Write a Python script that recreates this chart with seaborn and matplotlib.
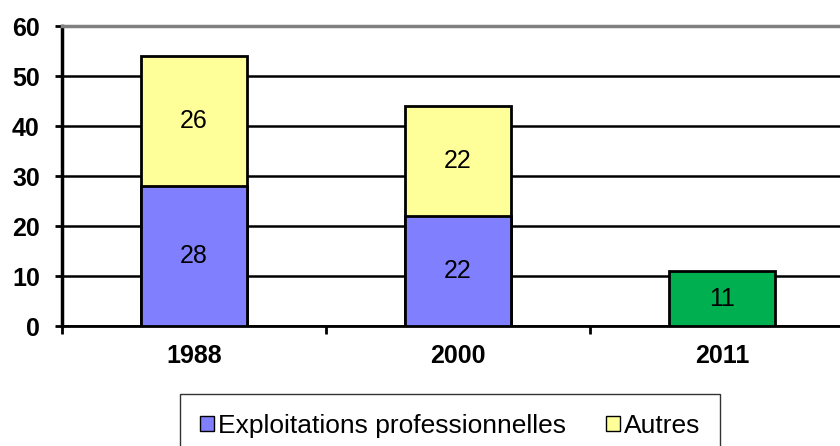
import matplotlib
matplotlib.use("Agg")
import matplotlib.pyplot as plt
from matplotlib.patches import Patch
import numpy as np
import seaborn as sns

years = ["1988", "2000", "2011"]
pro = [28, 22, np.nan]
autres = [26, 22, np.nan]
ensemble = [np.nan, np.nan, 11]

BLUE = "#8080FF"
YELLOW = "#FFFF99"
GREEN = "#00B050"

sns.set_style("white")
plt.rcParams["font.family"] = ["Liberation Sans", "DejaVu Sans"]
plt.rcParams["text.color"] = "black"
plt.rcParams["xtick.color"] = "black"
plt.rcParams["ytick.color"] = "black"

fig = plt.figure(figsize=(8.4, 4.46), dpi=100)
ax = fig.add_axes([62 / 840, 1 - 326 / 446, 792 / 840, 300 / 446])

totals = [np.nansum([p, a, e]) for p, a, e in zip(pro, autres, ensemble)]
top_colors = [YELLOW, YELLOW, GREEN]

sns.barplot(x=years, y=totals, hue=years, palette=top_colors, order=years,
            width=0.4, saturation=1, edgecolor="black", linewidth=2,
            legend=False, ax=ax, zorder=3)
sns.barplot(x=years, y=pro, color=BLUE, order=years, width=0.4, saturation=1,
            edgecolor="black", linewidth=2, ax=ax, zorder=4)

# labels in the middle of each segment
for i, y in enumerate(years):
    if not np.isnan(pro[i]):
        ax.text(i, pro[i] / 2, f"{pro[i]:.0f}", ha="center", va="center",
                fontsize=18, zorder=5)
    if not np.isnan(autres[i]):
        ax.text(i, pro[i] + autres[i] / 2, f"{autres[i]:.0f}", ha="center",
                va="center", fontsize=18, zorder=5)
    if not np.isnan(ensemble[i]):
        ax.text(i, ensemble[i] / 2, f"{ensemble[i]:.0f}", ha="center",
                va="center", fontsize=18, zorder=5)

ax.set_xlim(-0.5, 2.5)
ax.set_ylim(0, 60)
ax.set_yticks(range(0, 61, 10))
ax.yaxis.grid(True, color="black", linewidth=1.8, zorder=0)
ax.set_axisbelow(True)
ax.set_xlabel("")
ax.set_ylabel("")

ax.spines["right"].set_visible(False)
ax.spines["top"].set_color("#808080")
ax.spines["top"].set_linewidth(2.5)
ax.spines["left"].set_color("black")
ax.spines["left"].set_linewidth(2.5)
ax.spines["bottom"].set_color("black")
ax.spines["bottom"].set_linewidth(2)

ax.tick_params(axis="y", direction="out", length=5, width=2, color="black",
               left=True, labelsize=18, pad=11)
ax.tick_params(axis="x", which="major", length=0, labelsize=18, pad=13)
ax.set_xticks([-0.5, 0.5, 1.5, 2.5], minor=True)
ax.tick_params(axis="x", which="minor", direction="out", length=6, width=2,
               color="black", bottom=True)
for lab in ax.get_xticklabels() + ax.get_yticklabels():
    lab.set_fontweight("bold")

handles = [Patch(facecolor=BLUE, edgecolor="black", linewidth=1),
           Patch(facecolor=YELLOW, edgecolor="black", linewidth=1)]
leg = fig.legend(handles, ["Exploitations professionnelles", "Autres"],
                 loc="upper left", bbox_to_anchor=(180 / 840, 1 - 394 / 446),
                 ncol=2, fontsize=19, frameon=True, fancybox=False,
                 handlelength=0.55, handleheight=0.55, handletextpad=0.15,
                 columnspacing=1.5, borderpad=0.75, borderaxespad=0)
leg.get_frame().set_edgecolor("black")
leg.get_frame().set_linewidth(1)

fig.savefig("out.png", dpi=100)
